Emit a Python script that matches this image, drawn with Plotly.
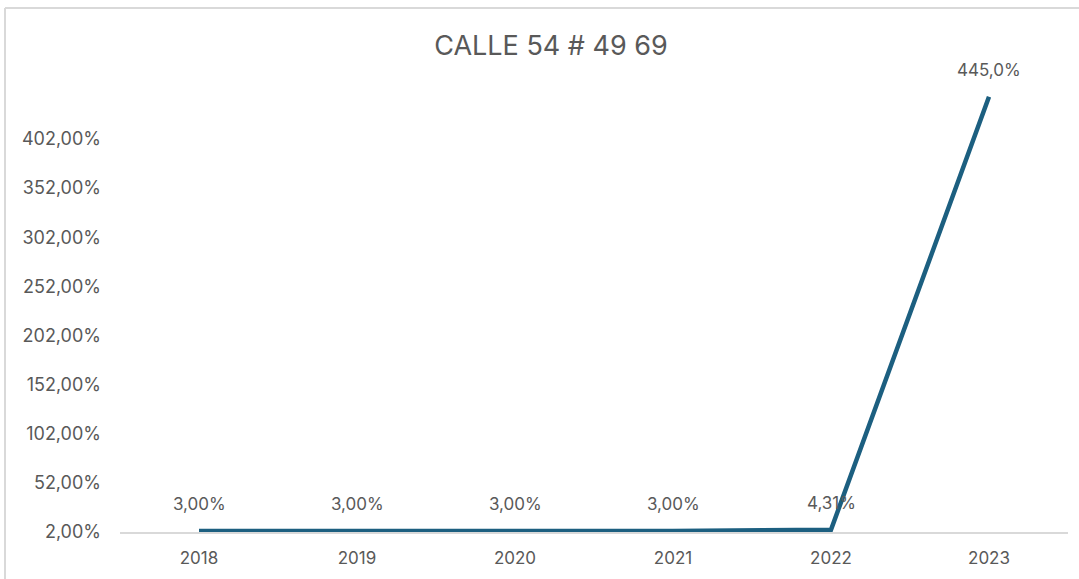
import plotly.graph_objects as go

years = ["2018", "2019", "2020", "2021", "2022", "2023"]
values = [3.00, 3.00, 3.00, 3.00, 4.31, 445.0]
labels = ["3,00%", "3,00%", "3,00%", "3,00%", "4,31%", "445,0%"]
tick_vals = [2, 52, 102, 152, 202, 252, 302, 352, 402]
tick_text = ["2,00%", "52,00%", "102,00%", "152,00%", "202,00%", "252,00%", "302,00%", "352,00%", "402,00%"]

FONT = "Inter, Liberation Sans, Arial, sans-serif"
GRAY = "#595959"
FS = 18

fig = go.Figure()
fig.add_trace(go.Scatter(
    x=list(range(len(years))), y=values, mode="lines",
    line=dict(color="#1C5F80", width=4.5),
    hoverinfo="skip", showlegend=False,
))

for i, (yv, t) in enumerate(zip(values, labels)):
    fig.add_annotation(x=i, y=yv, xref="x", yref="y", text=t, showarrow=False, yshift=27,
                       font=dict(family=FONT, size=17, color=GRAY))

W, H = 1079, 579
L, R, T, B = 120, 11, 80, 47
pw = W - L - R
ph = H - T - B
def px(x): return (x - L) / pw
def py(y): return (H - B - y) / ph

# chart-area border: top and left edges visible
fig.add_shape(type="line", xref="paper", yref="paper",
              x0=px(5), x1=px(1085), y0=py(8), y1=py(8),
              line=dict(color="#D9D9D9", width=2), layer="below")
fig.add_shape(type="line", xref="paper", yref="paper",
              x0=px(5), x1=px(5), y0=py(8), y1=py(585),
              line=dict(color="#D9D9D9", width=2), layer="below")

fig.update_layout(
    width=W, height=H,
    margin=dict(l=L, r=R, t=T, b=B),
    paper_bgcolor="white", plot_bgcolor="white",
    title=dict(text="CALLE 54 # 49 69", x=(551) / W, xanchor="center",
               y=1 - 46 / H, yanchor="middle",
               font=dict(family=FONT, size=27, color=GRAY)),
    xaxis=dict(range=[-0.5, 5.5], showgrid=False,
               tickvals=list(range(len(years))), ticktext=years,
               showline=True, linecolor="#D9D9D9", linewidth=1.5,
               ticks="", tickfont=dict(family=FONT, size=17, color=GRAY),
               ticklabelstandoff=10, zeroline=False),
    yaxis=dict(range=[2, 2 + ph / 0.9825], tickvals=tick_vals, ticktext=tick_text,
               showgrid=False, zeroline=False, showline=False, ticks="",
               tickfont=dict(family=FONT, size=FS, color=GRAY), ticklabelstandoff=18),
)

fig.write_html("out.html")
